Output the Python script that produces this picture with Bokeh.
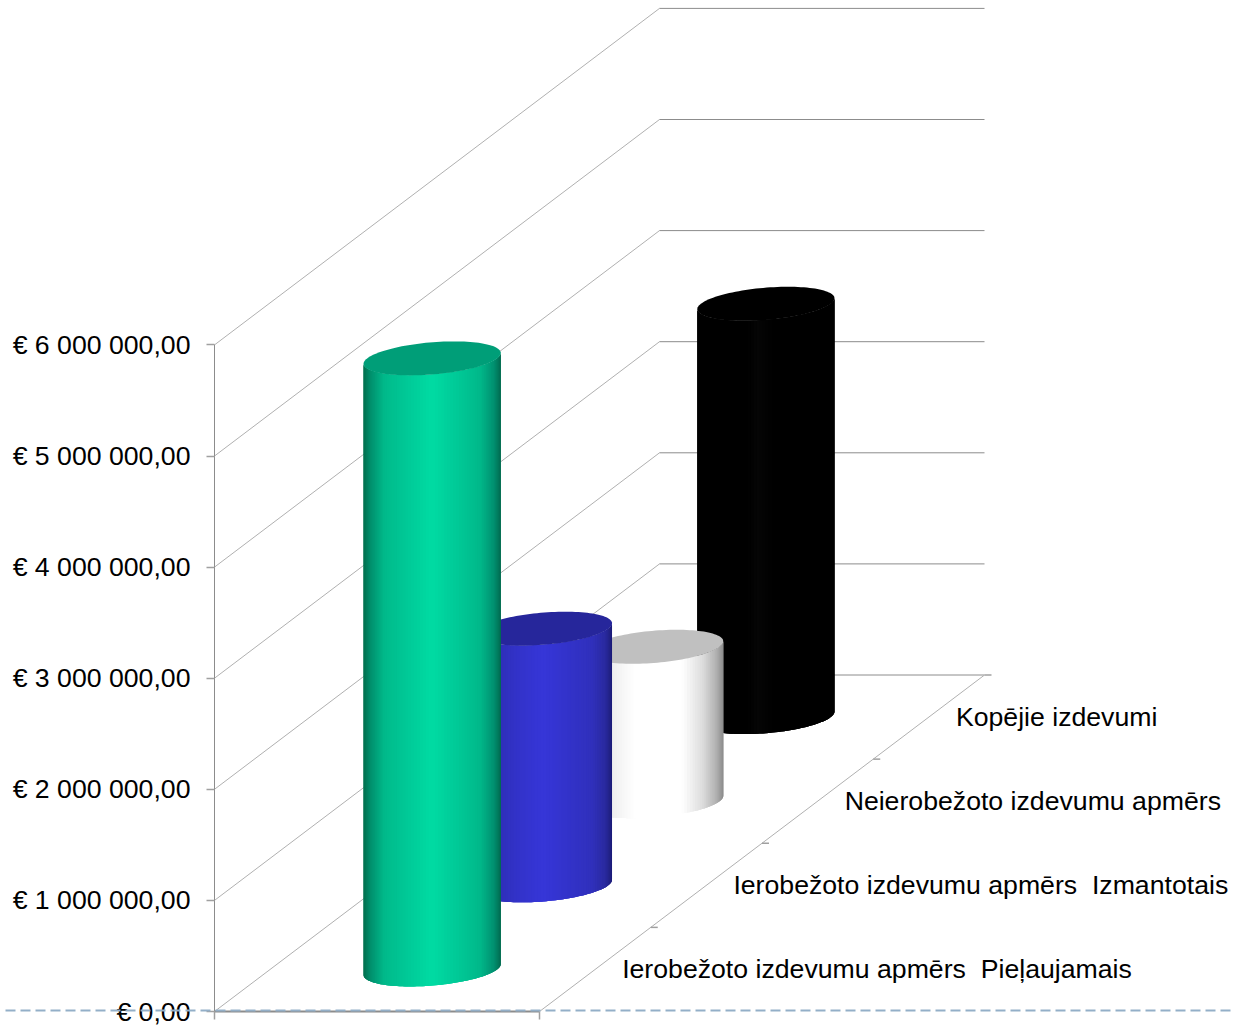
import numpy as np
from bokeh.plotting import figure
from bokeh.models import Range1d, LinearAxis, FixedTicker
from bokeh.core.properties import value
from bokeh.embed import file_html
from bokeh.resources import INLINE

# ---- data ----
categories = ["Ierobežoto izdevumu apmērs \u00a0Pieļaujamais",
              "Ierobežoto izdevumu apmērs \u00a0Izmantotais",
              "Neierobežoto izdevumu apmērs",
              "Kopējie izdevumi"]
amounts = [5500000, 2310000, 1390000, 3720000]
y_ticks = [0, 1000000, 2000000, 3000000, 4000000, 5000000, 6000000]
y_tick_labels = ["€ 0,00", "€ 1 000 000,00", "€ 2 000 000,00", "€ 3 000 000,00",
                 "€ 4 000 000,00", "€ 5 000 000,00", "€ 6 000 000,00"]

# ---- styles: (fraction across the cylinder, colour) ----
side_stops = [
    [(0, "#00704F"), (.05, "#008F6C"), (.15, "#00B98A"), (.3, "#00C896"), (.5, "#00DBA3"), (.7, "#00C896"), (.85, "#00B88A"), (.95, "#009070"), (1, "#006B50")],
    [(0, "#20208A"), (.05, "#2626A0"), (.15, "#2E2EB4"), (.3, "#3232C8"), (.5, "#3636D8"), (.7, "#3232C8"), (.85, "#3030BC"), (.95, "#2A2AA0"), (1, "#1C1C78")],
    [(0, "#D0D0D0"), (.19, "#EEEEEE"), (.35, "#FFFFFF"), (.7, "#FFFFFF"), (.85, "#DCDCDC"), (.95, "#B0B0B0"), (1, "#8C8C8C")],
    [(0, "#000000"), (.35, "#000000"), (.45, "#050505"), (.55, "#000000"), (1, "#000000")],
]
top_colors = ["#009E78", "#26269B", "#C0C0C0", "#000000"]

# ---- layout of the oblique projection, in screen px ----
W, H = 1233, 1026
X0, Y0 = 214, 1011              # front-left floor corner
PX_PER_EURO = 111.1 / 1e6
FLOOR_W, DEPTH_DX, DEPTH_DY = 325, 445, 336.5
CX_FRAC = 0.4985
RX, RDX, RDY = 65.0, 22.0, 17.0  # cylinder footprint

DY_EUR = DEPTH_DY / PX_PER_EURO

def hex2rgb(h):
    return np.array([int(h[i:i + 2], 16) for i in (1, 3, 5)], float)

def col(stops, f):
    fs = [s[0] for s in stops]
    rgb = np.array([hex2rgb(s[1]) for s in stops])
    c = [np.interp(f, fs, rgb[:, i]) for i in range(3)]
    return "#%02x%02x%02x" % tuple(int(round(v)) for v in c)

def proj(u, d, v=0.0):
    """u: px along the floor width, d: depth fraction, v: euros."""
    return u + DEPTH_DX * d, v + DY_EUR * d

p = figure(width=W, height=H, output_backend="svg", toolbar_location=None,
           x_range=Range1d(-X0, W - X0),
           y_range=Range1d(-(H - Y0) / PX_PER_EURO, Y0 / PX_PER_EURO),
           min_border=0, x_axis_type=None, y_axis_type=None)
p.outline_line_color = None
p.grid.visible = False
p.styles = {"position": "absolute", "left": "0px", "top": "0px"}

LIGHT, DARK = "#B0B0B0", "#8C8C8C"

# walls and floor
for v in y_ticks:
    x1, y1 = proj(0, 0, v)
    x2, y2 = proj(0, 1, v)
    x3, y3 = proj(FLOOR_W, 1, v)
    p.line([x1, x2], [y1, y2], line_color=LIGHT, line_width=1)
    p.line([x2, x3], [y2, y3], line_color=DARK, line_width=1)
xa, ya = proj(FLOOR_W, 0)
xb, yb = proj(FLOOR_W, 1)
p.line([xa, xb], [ya, yb], line_color=LIGHT, line_width=1)

# depth-axis ticks and category labels
n = len(categories)
for k in range(1, n + 1):
    x, y = proj(FLOOR_W, k / n)
    p.line([x, x + 7], [y, y], line_color="#A0A0A0", line_width=1.5)
lab_x, lab_y = zip(*[proj(FLOOR_W, (k + .5) / n) for k in range(n)])
p.text(x=list(lab_x), y=list(lab_y), text=categories, x_offset=27, y_offset=0,
       text_font=value("Liberation Sans"), text_font_size="26.67px",
       text_color="#000000", text_align="left", text_baseline="middle")

# cylinders, back to front
X_EXT = np.hypot(RX, RDX)
PHI = np.arctan2(RDX, RX)
N = 70
for k in range(n - 1, -1, -1):
    cx, cy = proj(FLOOR_W * CX_FRAC, (k + .5) / n)
    h = amounts[k]
    s = np.linspace(np.pi, 2 * np.pi, N + 1)
    ax = cx + X_EXT * np.cos(s)
    low = RDY * np.sin(s + PHI) / PX_PER_EURO
    # strips painted left to right; each one reaches under the next, so no seams show
    xs, ys, cs = [], [], []
    for i in range(N):
        j = min(i + 3, N)
        xs.append(list(ax[i:j + 1]) + list(ax[i:j + 1])[::-1])
        ys.append(list(cy + low[i:j + 1]) + list(cy + h + low[i:j + 1])[::-1])
        cs.append(col(side_stops[k], ((ax[i] + ax[i + 1]) / 2 - ax[0]) / (ax[-1] - ax[0])))
    p.patches(xs, ys, fill_color=cs, line_color=None)
    t = np.linspace(0, 2 * np.pi, 121)
    p.patch(cx + RX * np.cos(t) + RDX * np.sin(t),
            cy + h + RDY * np.sin(t) / PX_PER_EURO,
            fill_color=top_colors[k], line_color=None)

# real axes
yax = LinearAxis(fixed_location=0, ticker=FixedTicker(ticks=y_ticks), bounds=(0, max(y_ticks)))
yax.major_label_overrides = dict(zip(y_ticks, y_tick_labels))
yax.major_label_text_font = "Liberation Sans"
yax.major_label_text_font_size = "26.67px"
yax.major_label_text_color = "#000000"
yax.major_label_standoff = 16
yax.major_tick_out = 8
yax.major_tick_in = 0
yax.minor_tick_line_color = None
yax.axis_line_color = DARK
yax.major_tick_line_color = "#A0A0A0"
yax.major_tick_line_width = 1.5
p.add_layout(yax, "left")

xax = LinearAxis(fixed_location=0, ticker=FixedTicker(ticks=[0, FLOOR_W]), bounds=(0, FLOOR_W))
xax.major_label_text_font_size = "0px"
xax.major_label_overrides = {0: "", FLOOR_W: ""}
xax.major_tick_out = 8
xax.major_tick_in = 0
xax.minor_tick_line_color = None
xax.axis_line_color = "#8C8C8C"
xax.axis_line_width = 2
xax.major_tick_line_color = "#A0A0A0"
xax.major_tick_line_width = 1.5
p.add_layout(xax, "below")

# dashed baseline across the page, just above the floor edge
dash_y = 1.0 / PX_PER_EURO
p.line([5 - X0, W - X0], [dash_y, dash_y], line_color="#93AFC8", line_width=2, line_dash="10 5", level="overlay")

open("out.html", "w").write(file_html(p, INLINE))
